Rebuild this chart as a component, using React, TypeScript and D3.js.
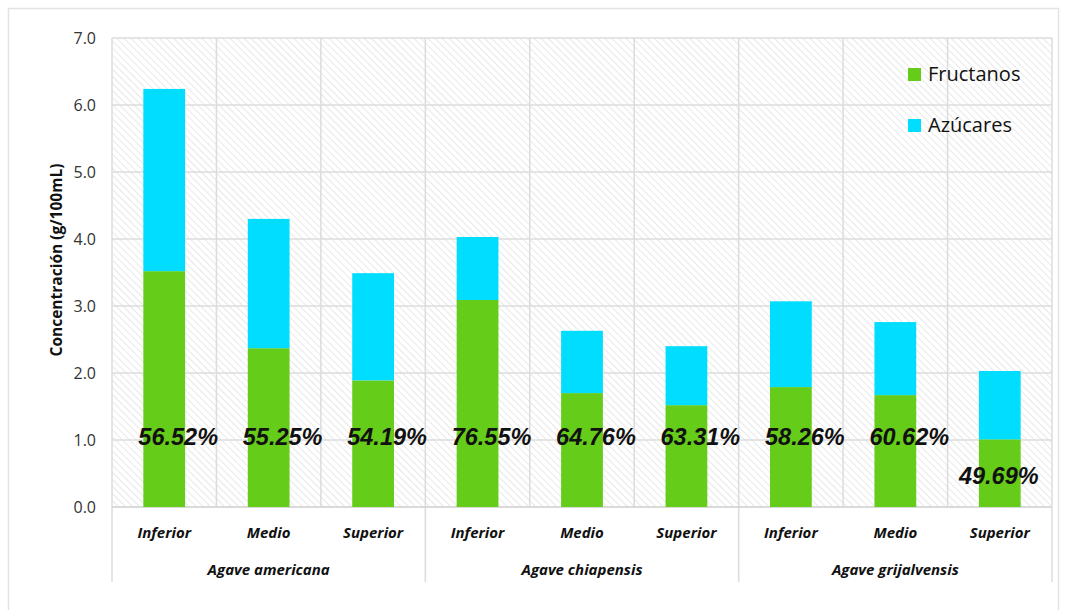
import React from "react";
import * as d3 from "d3";

const groups = ["Agave americana", "Agave chiapensis", "Agave grijalvensis"];
const positions = ["Inferior", "Medio", "Superior"];
const fructanos = [3.52, 2.37, 1.89, 3.09, 1.7, 1.52, 1.79, 1.67, 1.01];
const azucares = [2.72, 1.93, 1.6, 0.94, 0.93, 0.88, 1.28, 1.09, 1.02];
const percentLabels = ["56.52%", "55.25%", "54.19%", "76.55%", "64.76%", "63.31%", "58.26%", "60.62%", "49.69%"];
const yTicks = [0, 1, 2, 3, 4, 5, 6, 7];
const seriesNames = ["Fructanos", "Azúcares"];
const seriesColors = ["#66cc1a", "#00ddff"];

const W = 1065;
const H = 610;
const left = 112;
const right = 1052;
const top = 38;
const bottom = 507;

export default function App() {
  const cats = groups.flatMap((g) => positions.map((p) => `${g}|${p}`));
  const x = d3.scaleBand<string>().domain(cats).range([left, right]).paddingInner(0.6).paddingOuter(0.3);
  const y = d3.scaleLinear().domain([0, 7]).range([bottom, top]);
  const step = x.step();
  const groupW = step * positions.length;
  const font = "'Open Sans', 'Liberation Sans', sans-serif";

  return (
    <svg width={W} height={H} style={{ position: "absolute", left: 0, top: 0, background: "#fff" }}>
      <defs>
        <pattern id="hatch" width="5" height="5" patternUnits="userSpaceOnUse" patternTransform="rotate(-45)">
          <rect width="5" height="5" fill="#ffffff" />
          <line x1="0" y1="0" x2="0" y2="5" stroke="#e2e2e2" strokeWidth="1.6" />
        </pattern>
      </defs>
      <rect x={8.5} y={8.5} width={1050} height={620} fill="#fff" stroke="#e3e3e3" strokeWidth={1.5} />
      <rect x={left} y={top} width={right - left} height={bottom - top} fill="url(#hatch)" />
      {yTicks.map((t) => (
        <line key={`g${t}`} x1={left} x2={right} y1={y(t)} y2={y(t)} stroke="#dcdcdc" strokeWidth={1.5} />
      ))}
      {d3.range(cats.length + 1).map((i) => (
        <line key={`v${i}`} x1={left + i * step} x2={left + i * step} y1={top} y2={bottom} stroke="#dcdcdc" strokeWidth={1.5} />
      ))}
      {d3.range(groups.length + 1).map((i) => (
        <line key={`gv${i}`} x1={left + i * groupW} x2={left + i * groupW} y1={bottom} y2={582} stroke="#dcdcdc" strokeWidth={1.5} />
      ))}
      <line x1={left} x2={right} y1={bottom} y2={bottom} stroke="#d6d6d6" strokeWidth={1.5} />
      {cats.map((c, i) => (
        <g key={c}>
          <rect x={x(c)} width={x.bandwidth()} y={y(fructanos[i])} height={y(0) - y(fructanos[i])} fill={seriesColors[0]} />
          <rect
            x={x(c)}
            width={x.bandwidth()}
            y={y(fructanos[i] + azucares[i])}
            height={y(fructanos[i]) - y(fructanos[i] + azucares[i])}
            fill={seriesColors[1]}
          />
        </g>
      ))}
      {cats.map((c, i) => {
        const below = fructanos[i] < 1.2;
        return (
          <text
            key={`p${c}`}
            x={below ? (x(c) as number) + x.bandwidth() / 2 - 1 : (x(c) as number) - 5}
            y={below ? y(0.35) : y(0.92)}
            textAnchor={below ? "middle" : "start"}
            fontFamily="'Liberation Sans', Arial, sans-serif"
            fontWeight="bold"
            fontStyle="italic"
            fontSize={23.5}
            fill="#111"
          >
            {percentLabels[i]}
          </text>
        );
      })}
      {yTicks.map((t) => (
        <text key={`t${t}`} x={96} y={y(t)} dy="0.35em" textAnchor="end" fontFamily={font} fontSize={16} fill="#333">
          {t.toFixed(1)}
        </text>
      ))}
      {cats.map((c, i) => (
        <text
          key={`c${c}`}
          x={(x(c) as number) + x.bandwidth() / 2}
          y={538}
          textAnchor="middle"
          fontFamily={font}
          fontWeight="bold"
          fontStyle="italic"
          fontSize={15}
          fill="#111"
        >
          {positions[i % positions.length]}
        </text>
      ))}
      {groups.map((g, i) => (
        <text
          key={g}
          x={left + i * groupW + groupW / 2}
          y={575}
          textAnchor="middle"
          fontFamily={font}
          fontWeight="bold"
          fontStyle="italic"
          fontSize={15}
          fill="#111"
        >
          {g}
        </text>
      ))}
      <text
        transform={`translate(62,260) rotate(-90)`}
        textAnchor="middle"
        fontFamily={font}
        fontWeight="bold"
        fontSize={15.5}
        fill="#111"
      >
        Concentración (g/100mL)
      </text>
      {seriesNames.map((s, i) => (
        <g key={s} transform={`translate(908,${68 + i * 51})`}>
          <rect width={13} height={13} fill={seriesColors[i]} />
          <text x={20} y={13} fontFamily={font} fontSize={20} fill="#111">
            {s}
          </text>
        </g>
      ))}
    </svg>
  );
}
